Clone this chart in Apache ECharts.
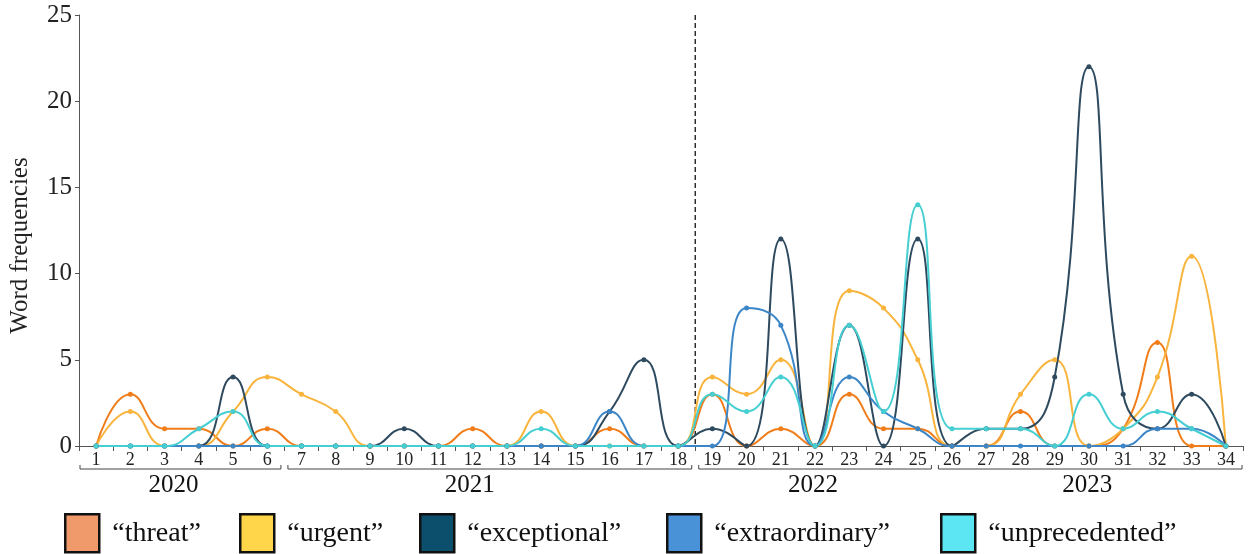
<!DOCTYPE html>
<html><head><meta charset="utf-8">
<script src="https://cdn.jsdelivr.net/npm/echarts@6/dist/echarts.min.js"></script>
<style>html,body{margin:0;padding:0;background:#fff}#c{width:1249px;height:554px}</style>
</head><body><div id="c"></div>
<script>
const categories = ['1','2','3','4','5','6','7','8','9','10','11','12','13','14','15','16','17','18','19','20','21','22','23','24','25','26','27','28','29','30','31','32','33','34'];
const threat        = [0,3,1,1,0,1,0,0,0,0,0,1,0,0,0,1,0,0,3,0,1,0,3,1,1,0,0,2,0,0,1,6,0,0];
const urgent        = [0,2,0,0,2,4,3,2,0,0,0,0,0,2,0,0,0,0,4,3,5,0,9,8,5,0,0,3,5,0,1,4,11,0];
const exceptional   = [0,0,0,0,4,0,0,0,0,1,0,0,0,0,0,2,5,0,1,0,12,0,7,0,12,0,1,1,4,22,3,1,3,0];
const extraordinary = [0,0,0,0,0,0,0,0,0,0,0,0,0,0,0,2,0,0,0,8,7,0,4,2,1,0,0,0,0,0,0,1,1,0];
const unprecedented = [0,0,0,1,2,0,0,0,0,0,0,0,0,1,0,0,0,0,3,2,4,0,7,2,14,1,1,1,0,3,1,2,1,0];
const seriesNames = ['“threat”','“urgent”','“exceptional”','“extraordinary”','“unprecedented”'];
const years = ['2020','2021','2022','2023'];
const yearSpans = [[1,6],[7,18],[19,25],[26,34]];
const dividerAfter = 18;

const lineColors = ['#F07D19','#F8B43C','#2E4A5F','#3C86C8','#45CFD2'];
const legendColors = ['#F09A6B','#FFD54A','#0B4F6C','#4A92D8','#5CE5F2'];
const legendLeft = [59,234,414,661,935];
const yearLabelShift = [-7,-20,-2,-3];
const dataSets = [threat, urgent, exceptional, extraordinary, unprecedented];
const FONT = '"Liberation Serif","Times New Roman",serif';

const chart = echarts.init(document.getElementById('c'), null, {renderer:'canvas'});
const option = {
  animation:false,
  backgroundColor:'#fff',
  grid:{left:79,right:6,top:15,bottom:108,containLabel:false,outerBoundsMode:'none'},
  xAxis:{
    type:'category', data:categories, boundaryGap:true,
    axisLine:{lineStyle:{color:'#555',width:1}},
    axisTick:{show:true,length:5,inside:false,lineStyle:{color:'#555'}},
    axisLabel:{fontFamily:FONT,fontSize:18,color:'#222',margin:5,interval:0}
  },
  yAxis:{
    type:'value', min:0, max:25, interval:5,
    name:'Word frequencies', nameLocation:'middle', nameGap:46,
    nameTextStyle:{fontFamily:FONT,fontSize:25,color:'#222',padding:[0,30,0,0]},
    splitLine:{show:false},
    axisLine:{show:true,lineStyle:{color:'#555',width:1}},
    axisTick:{show:true,length:4,lineStyle:{color:'#555'}},
    axisLabel:{fontFamily:FONT,fontSize:25,color:'#222',margin:7}
  },
  legend: seriesNames.map((n,i)=>({
    show:true, left:legendLeft[i], top:508, icon:'rect', itemWidth:34, itemHeight:38,
    data:[{name:n,itemStyle:{color:legendColors[i],borderColor:'#111',borderWidth:2.5}}],
    textStyle:{fontFamily:FONT,fontSize:28,color:'#111',padding:[0,0,0,8]},
    selectedMode:false
  })),
  series: seriesNames.map((n,i)=>({
    name:n, type:'line', data:dataSets[i], smooth:0.5,
    symbol:'circle', symbolSize:5, showSymbol:true,
    lineStyle:{color:lineColors[i],width:2},
    itemStyle:{color:lineColors[i]}
  }))
};
chart.setOption(option);

const px = i => chart.convertToPixel({xAxisIndex:0}, categories[i-1]);
const band = px(2) - px(1);
const y0 = chart.convertToPixel({yAxisIndex:0}, 0);
const yTop = chart.convertToPixel({yAxisIndex:0}, 25);
const graphics = [];
const divX = px(dividerAfter) + band/2;
graphics.push({type:'line', shape:{x1:divX,y1:yTop,x2:divX,y2:y0}, style:{stroke:'#111',lineWidth:1.3,lineDash:[5,3]}, z:1});
const by = y0 + 23;
yearSpans.forEach((s,k)=>{
  const first = k===0, last = k===yearSpans.length-1;
  const xa = px(s[0]) - band/2 + (first?1:3.5);
  const xb = px(s[1]) + band/2 - (last?1:3.5);
  graphics.push({type:'polyline', shape:{points:[[xa,by-4],[xa,by],[xb,by],[xb,by-4]]}, style:{stroke:'#444',lineWidth:1,fill:null}});
  graphics.push({type:'text', x:(xa+xb)/2 + yearLabelShift[k], y:by+16, style:{text:years[k],font:'25px '+FONT,fill:'#111',align:'center',verticalAlign:'middle'}});
});
chart.setOption({graphic:graphics});
</script></body></html>
